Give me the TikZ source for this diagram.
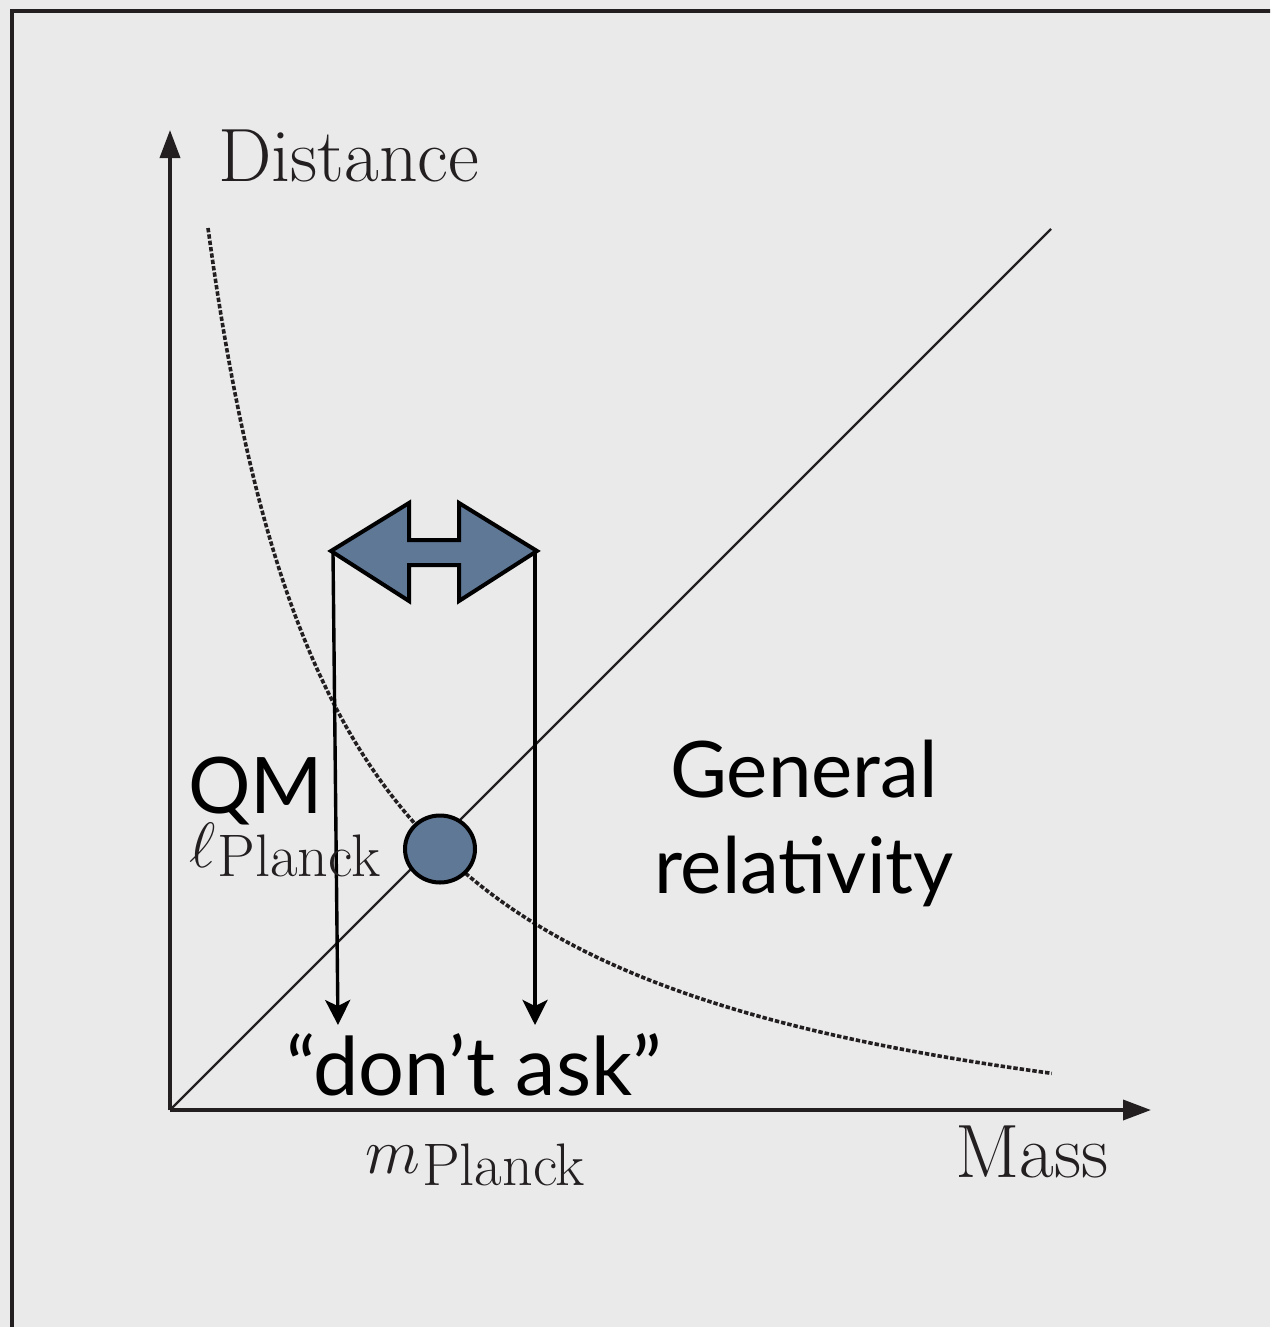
\documentclass[tikz,border=0pt]{standalone}
\usepackage{fix-cm}
\usepackage{fontspec}
\newfontfamily\gill{Lato}
\usetikzlibrary{arrows.meta,shapes.geometric}
\definecolor{bg}{HTML}{EAEAEA}
\definecolor{ink}{HTML}{231F20}
\definecolor{slate}{HTML}{5F7896}
\newcommand{\plancksub}[1]{\raisebox{-#1}{\fontsize{30}{34}\selectfont Planck}}
\tikzset{
  axis/.style={ink,line width=1.8pt,-{Triangle[length=14pt,width=10pt]}},
  drop/.style={black,line width=1.7pt,-{Stealth[length=12.5pt,width=12.5pt,inset=3pt]}},
  lm/.style={ink,inner sep=0pt,anchor=base west,font=\fontsize{37.8}{44}\selectfont},
  lmmath/.style={ink,inner sep=0pt,anchor=base west,font=\fontsize{32}{38}\selectfont},
  gs/.style={black,inner sep=0pt,font=\gill\fontsize{39}{48}\selectfont},
  blueshape/.style={fill=slate,draw=black,line width=2pt,line join=miter},
}
\begin{document}
\begin{tikzpicture}[x=0.5pt,y=-0.5pt]
\fill[bg] (0,0) rectangle (1270,1327);
\useasboundingbox (0,0) rectangle (1270,1327);
\begin{scope}
\clip (0,0) rectangle (1270,1327);
\draw[ink,line width=2pt] (12,11) rectangle (1300,1360);
\end{scope}
% axes
\coordinate (O) at (170,1110);
\coordinate (ytip) at (170,130);
\coordinate (xtip) at (1151,1110);
\draw[axis] (O) -- (ytip);
\draw[axis] (O) -- (xtip);
% diagonal line
\coordinate (diagend) at (1051,229);
\draw[ink,line width=1.1pt] (O) -- (diagend);
% dotted hyperbola
\draw[ink,line width=1.8pt,dash pattern=on 2.2pt off 1pt]
  plot[domain=1.33:9.77,samples=160,smooth] ({75+100*\x},{1206.6-1301.54/\x});
% double arrow
\draw[blueshape] (331,551) -- (409,503) -- (409,540) -- (459,540) -- (459,503)
  -- (537,551) -- (459,601) -- (459,565) -- (409,565) -- (409,601) -- cycle;
\coordinate (ltop) at (333,553);
\coordinate (rtop) at (535,553);
\coordinate (lbot) at (338,1025);
\coordinate (rbot) at (535,1025);
\draw[drop] (ltop) -- (lbot);
\draw[drop] (rtop) -- (rbot);
% planck point
\node[draw=black,fill=slate,line width=2pt,ellipse,minimum width=35pt,minimum height=33.5pt,inner sep=0pt] (pt) at (440,849) {};
% labels
\node[lm] (dist) at (218,181) {Distance};
\node[lm] (mass) at (955,1177) {Mass};
\node[lmmath] (mp) at (365,1173) {$m$\kern1pt\plancksub{6pt}};
\node[lmmath] (lp) at (189,867) {$\ell$\kern1pt\plancksub{4.5pt}};
\node[gs,anchor=base west] (qm) at (188,813) {QM};
\node[gs,anchor=base,align=center] (gr) at (804,893) {General\\relativity};
\node[gs,anchor=base west,font=\gill\fontsize{40.5}{48}\selectfont] (da) at (286,1095) {“don’t ask”};
\end{tikzpicture}
\end{document}
